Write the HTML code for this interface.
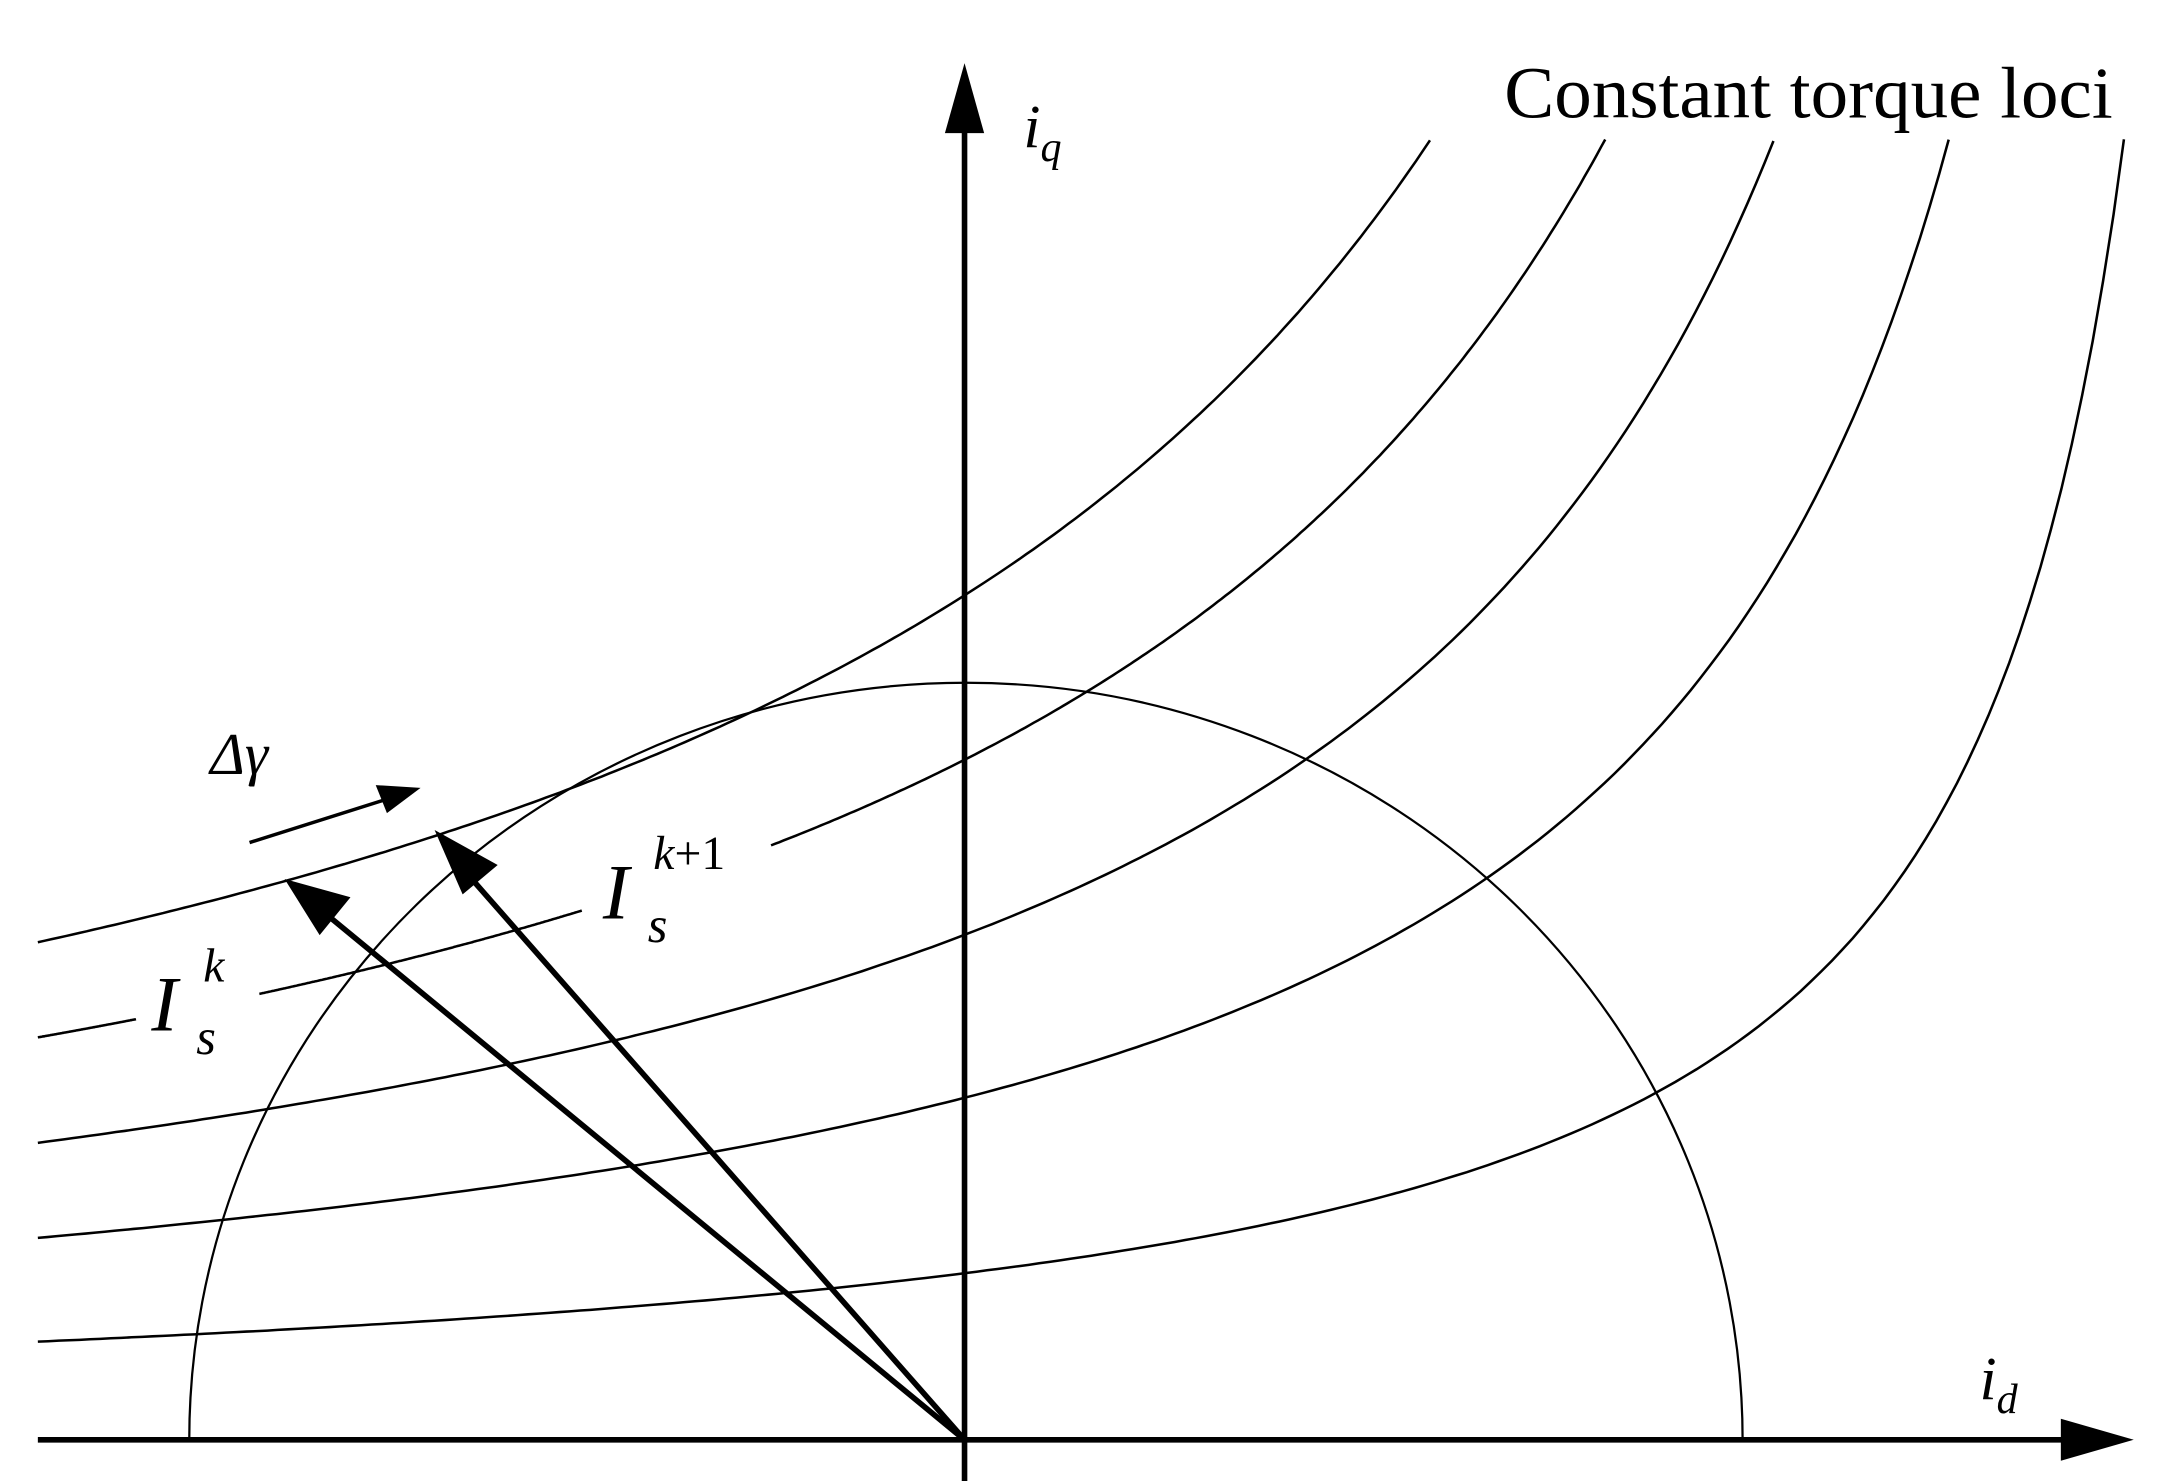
<!DOCTYPE html>
<html><head><meta charset="utf-8"><style>html,body{margin:0;padding:0;background:#fff}svg{display:block}</style></head>
<body>
<svg width="2173" height="1481" viewBox="0 0 1550 1056.4" preserveAspectRatio="none" xmlns="http://www.w3.org/2000/svg">
<g fill="none" stroke="#000">
<line x1="27" y1="1027" x2="1475" y2="1027" stroke-width="4"/>
<polygon points="1522,1027 1470,1012 1470,1042" fill="#000" stroke="none"/>
<line x1="688" y1="1068" x2="688" y2="90" stroke-width="4"/>
<polygon points="688,45 674,95 702,95" fill="#000" stroke="none"/>
<path d="M135,1027 A553,539 0 0 1 1243,1027" stroke-width="1.6"/>
<g stroke-width="1.8" id="curves"></g>
<line x1="688" y1="1027" x2="235" y2="654" stroke-width="4"/>
<polygon points="203,627 250,640 228,667" fill="#000" stroke="none"/>
<line x1="688" y1="1027" x2="333" y2="623" stroke-width="4"/>
<polygon points="310,592 355,617 330,638" fill="#000" stroke="none"/>
<line x1="178" y1="601" x2="276" y2="570" stroke-width="2.5"/>
<polygon points="300,562 268,560 276,580" fill="#000" stroke="none"/>
</g>
<g font-family="Liberation Serif, serif" fill="#000">
<text x="1073" y="84" font-size="52" textLength="434" lengthAdjust="spacingAndGlyphs">Constant torque loci</text>
<text x="730" y="105" font-size="44" font-style="italic">i<tspan font-size="30" dy="10">q</tspan></text>
<text x="1412" y="998" font-size="44" font-style="italic">i<tspan font-size="30" dy="10">d</tspan></text>
<text x="150" y="552" font-size="42" font-style="italic">Δγ</text>
<text x="108" y="735" font-size="56" font-style="italic">I</text>
<text x="140" y="752" font-size="36" font-style="italic">s</text>
<text x="145" y="700" font-size="34" font-style="italic">k</text>
<text x="430" y="655" font-size="56" font-style="italic">I</text>
<text x="462" y="672" font-size="36" font-style="italic">s</text>
<text x="466" y="620" font-size="34"><tspan font-style="italic">k</tspan>+1</text>
</g>
</svg>
<script>
(function(){
var g=document.getElementById('curves');
var defs=[[1636,571000,[[27,1020]]],[1646,464700,[[27,97],[185,415],[550,1145]]],[1632,340000,[[27,1265]]],[1640.6,232400,[[27,1390]]],[1636.5,112700,[[27,1515]]]];
defs.forEach(function(d){
 d[2].forEach(function(seg){
  var pts=[];
  for(var x=seg[0];x<=seg[1]+0.01;x+=(seg[1]-seg[0])/200){
   pts.push(x.toFixed(1)+','+(1027-d[1]/(d[0]-x)).toFixed(1));
  }
  var p=document.createElementNS('http://www.w3.org/2000/svg','polyline');
  p.setAttribute('points',pts.join(' '));
  g.appendChild(p);
 });
});
})();
</script>
</body></html>
